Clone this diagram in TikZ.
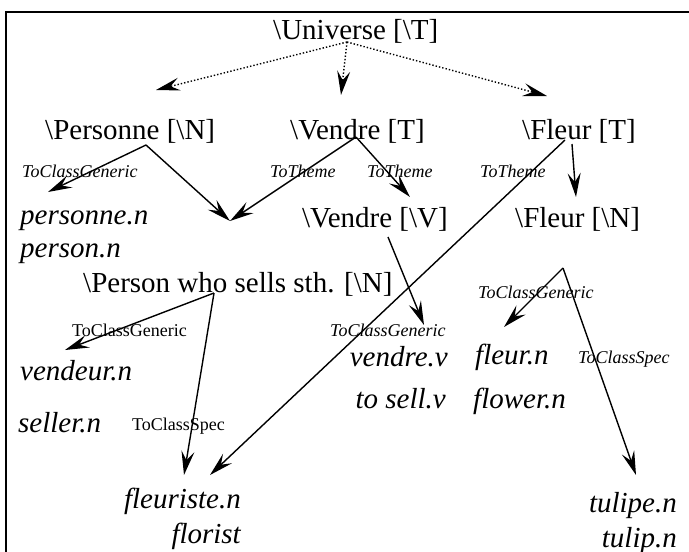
\documentclass[tikz,border=0pt]{standalone}
\usepackage{fontspec}
\setmainfont{Liberation Serif}
\usetikzlibrary{arrows.meta}
\newcommand{\bs}{\textbackslash}
\begin{document}
\begin{tikzpicture}[x=1pt,y=-1pt,
  big/.style={font=\fontsize{29}{34}\selectfont, inner sep=0pt},
  bigit/.style={font=\fontsize{29}{34}\selectfont\itshape, inner sep=0pt},
  labit/.style={font=\fontsize{18}{20}\selectfont\itshape, inner sep=0pt},
  labup/.style={font=\fontsize{18}{20}\selectfont, inner sep=0pt},
  arr/.style={line width=1.4pt, -{Stealth[length=24pt,width=13pt,inset=9pt]}},
  darr/.style={arr, dotted},
  frameline/.style={line width=2.2pt}]
\useasboundingbox (0,0) rectangle (689,552);
\draw[frameline] (6,552) -- (6,12) -- (689,12);

% concept nodes
\node[big, anchor=base west] (U) at (273,39) {\bs Universe [\bs T]};
\node[big, anchor=base west] (P) at (45,139) {\bs Personne [\bs N]};
\node[big, anchor=base west] (V) at (290,139) {\bs Vendre [T]};
\node[big, anchor=base west] (F) at (522,139) {\bs Fleur [T]};
\node[big, anchor=base east] (VV) at (448,227) {\bs Vendre [\bs V]};
\node[big, anchor=base west] (FN) at (515,227) {\bs Fleur [\bs N]};
\node[big, anchor=base west] (PW) at (83,292) {\bs Person who sells sth. [\bs N]};

% lexical entries
\node[bigit, anchor=base west] (pn1) at (20,224) {personne.n};
\node[bigit, anchor=base west] (pn2) at (20,257) {person.n};
\node[bigit, anchor=base west] (vd1) at (20,380) {vendeur.n};
\node[bigit, anchor=base west] (vd2) at (18,432) {seller.n};
\node[bigit, anchor=base east] (vv1) at (448,366) {vendre.v};
\node[bigit, anchor=base east] (vv2) at (446,408) {to sell.v};
\node[bigit, anchor=base west] (fl1) at (475,364) {fleur.n};
\node[bigit, anchor=base west] (fl2) at (473,408) {flower.n};
\node[bigit, anchor=base east] (fs1) at (241,508) {fleuriste.n};
\node[bigit, anchor=base east] (fs2) at (241,543) {florist};
\node[bigit, anchor=base east] (tl1) at (677,512) {tulipe.n};
\node[bigit, anchor=base east] (tl2) at (677,547) {tulip.n};

% relation labels
\node[labit, anchor=base west] (l1) at (22,177) {ToClassGeneric};
\node[labit, anchor=base west] (l2) at (270,177) {ToTheme};
\node[labit, anchor=base west] (l3) at (367,177) {ToTheme};
\node[labit, anchor=base west] (l4) at (480,177) {ToTheme};
\node[labup, anchor=base west] (l5) at (72,336) {ToClassGeneric};
\node[labit, anchor=base west] (l6) at (330,336) {ToClassGeneric};
\node[labit, anchor=base west] (l7) at (478,298) {ToClassGeneric};
\node[labit, anchor=base west] (l8) at (578,363) {ToClassSpec};
\node[labup, anchor=base west] (l9) at (132,430) {ToClassSpec};

% connector end points
\coordinate (Uo) at (347,42);
\coordinate (Pi) at (156,90);
\coordinate (Vi) at (341,95);
\coordinate (Fi) at (547,96);
\coordinate (Po) at (146,145);
\coordinate (Vo) at (356,137);
\coordinate (Fo) at (565,140);
\coordinate (Fo2) at (572,144);
\coordinate (pnI) at (48,192);
\coordinate (PWi) at (230,221);
\coordinate (VVi) at (410,197);
\coordinate (FNi) at (576,197);
\coordinate (VVo) at (388,237);
\coordinate (vvI) at (424,325);
\coordinate (PWo) at (214,293);
\coordinate (vdI) at (65,350);
\coordinate (fsI) at (184,475);
\coordinate (fsI2) at (210,475);
\coordinate (FNo) at (563,268);
\coordinate (flI) at (504,327);
\coordinate (tlI) at (636,475);

% dotted links from the universe
\draw[darr] (Uo) -- (Pi);
\draw[darr] (Uo) -- (Vi);
\draw[darr] (Uo) -- (Fi);

% solid links
\draw[arr] (Po) -- (pnI);
\draw[arr] (Po) -- (PWi);
\draw[arr] (Vo) -- (PWi);
\draw[arr] (Vo) -- (VVi);
\draw[arr] (Fo) -- (fsI2);
\draw[arr] (Fo2) -- (FNi);
\draw[arr] (VVo) -- (vvI);
\draw[arr] (PWo) -- (vdI);
\draw[arr] (PWo) -- (fsI);
\draw[arr] (FNo) -- (flI);
\draw[arr] (FNo) -- (tlI);
\end{tikzpicture}
\end{document}
